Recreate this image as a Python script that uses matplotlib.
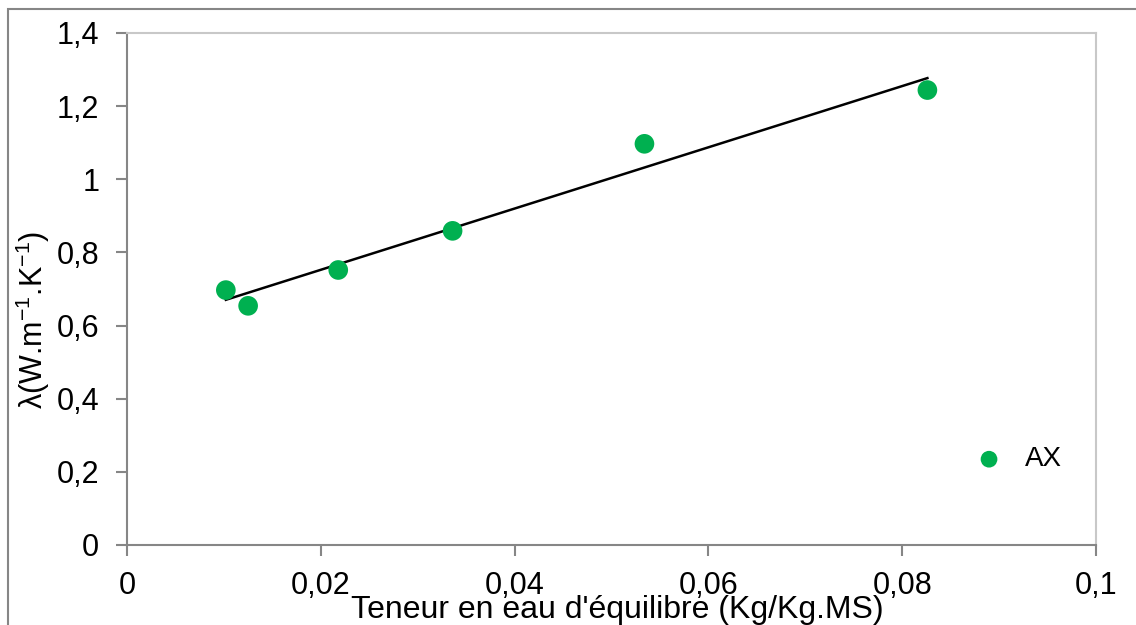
import numpy as np
import matplotlib
matplotlib.use("Agg")
import matplotlib.pyplot as plt
from matplotlib.patches import Rectangle

plt.rcParams['font.family'] = ['Liberation Sans', 'DejaVu Sans']
plt.rcParams['mathtext.default'] = 'regular'

# Data
teneur = [0.0102, 0.0125, 0.0218, 0.0336, 0.0534, 0.0826]
lam = [0.697, 0.654, 0.752, 0.859, 1.097, 1.244]
serie = "AX"

x_ticks = [0, 0.02, 0.04, 0.06, 0.08, 0.1]
y_ticks = [0, 0.2, 0.4, 0.6, 0.8, 1, 1.2, 1.4]

def virgule(v):
    return ('%g' % v).replace('.', ',')

fig = plt.figure(figsize=(11.36, 6.25), dpi=100)
ax = fig.add_axes([127/1136, 1 - 545/625, 969/1136, 512/625])

# outer chart border (runs off right/bottom edge)
fig.patches.append(Rectangle((8/1136, -0.2), 1.5, 1 - 9/625 + 0.2,
                             transform=fig.transFigure, fill=False,
                             edgecolor='#868686', linewidth=1.5))

ax.scatter(teneur, lam, s=200, color='#00B050', zorder=3, label=serie,
           edgecolors='none')

# linear trend line
a, b = np.polyfit(teneur, lam, 1)
xs = np.array([min(teneur), max(teneur)])
ax.plot(xs, a * xs + b, color='black', linewidth=1.8, zorder=2)

ax.set_xlim(0, 0.1)
ax.set_ylim(0, 1.4)
ax.set_xticks(x_ticks)
ax.set_yticks(y_ticks)
ax.set_xticklabels([virgule(v) for v in x_ticks])
ax.set_yticklabels([virgule(v) for v in y_ticks])
ax.tick_params(axis='both', direction='out', length=8, width=1.5,
               color='#868686', labelsize=22)
ax.tick_params(axis='y', pad=12)
ax.tick_params(axis='x', pad=11)

for s in ['left', 'bottom']:
    ax.spines[s].set_color('#868686')
    ax.spines[s].set_linewidth(1.5)
for s in ['top', 'right']:
    ax.spines[s].set_color('#C8C8C8')
    ax.spines[s].set_linewidth(1.5)

ax.set_xlabel("Teneur en eau d'équilibre (Kg/Kg.MS)", fontsize=23)
ax.xaxis.set_label_coords(0.506, -0.098)
ax.xaxis.label.set_va('top')
ax.set_ylabel("λ(W.m$^{-1}$.K$^{-1}$)", fontsize=22)
ax.yaxis.set_label_coords(-0.077, 0.44)

ax.legend(loc='center', bbox_to_anchor=(0.913, 0.167), frameon=False,
          fontsize=20, handletextpad=0.3, markerscale=0.85)

fig.savefig("out.png", dpi=100)
